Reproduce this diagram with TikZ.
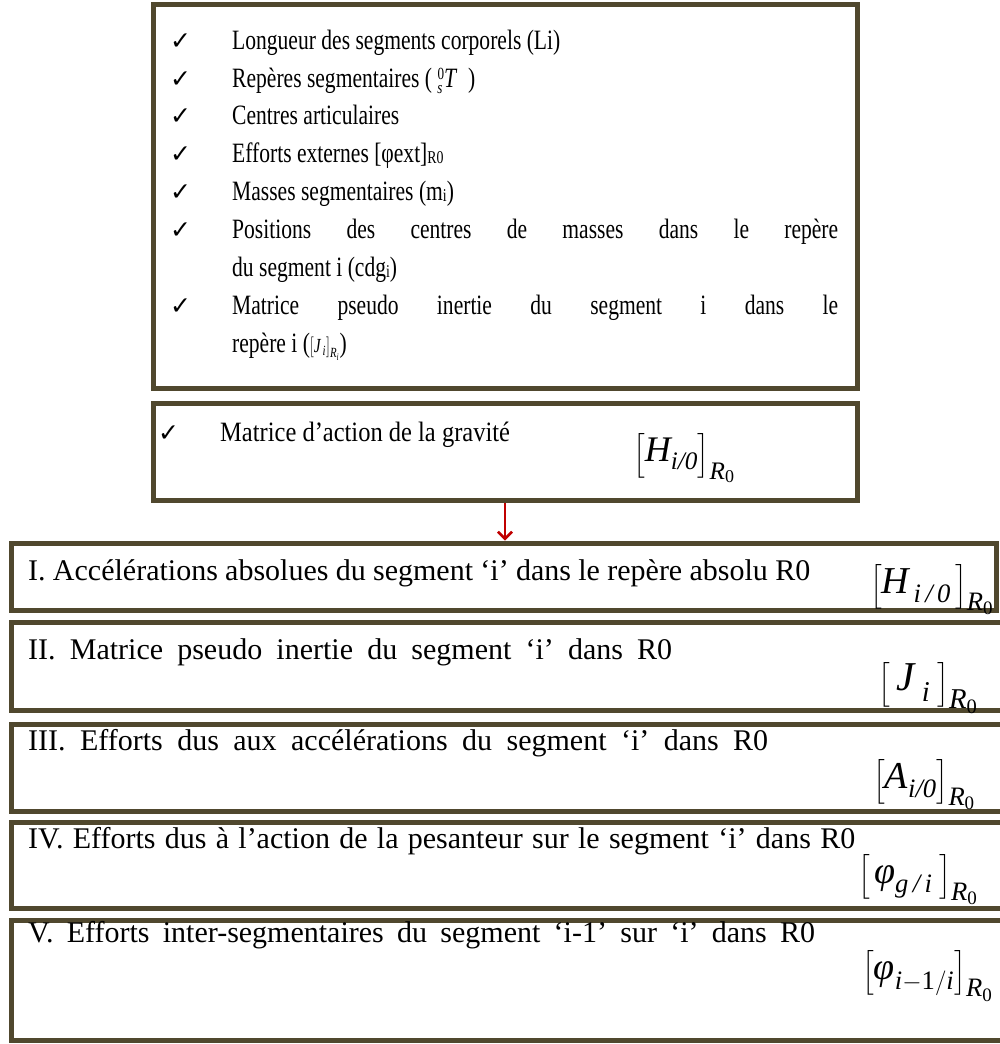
\documentclass[tikz,border=0pt]{standalone}
\usepackage{fontspec}
\usepackage{amsmath}
\usepackage{graphicx}
\usetikzlibrary{arrows.meta}
\setmainfont{Liberation Serif}
\newfontfamily\symfont{DejaVu Sans}
\definecolor{frameC}{RGB}{80,72,46}
\definecolor{arrC}{RGB}{192,0,0}
\newcommand{\tx}[1]{\text{\normalfont\itshape #1}}
\newcommand{\tn}[1]{\text{\normalfont #1}}
\newcommand{\ck}{{\symfont\fontsize{25}{25}\selectfont ✓}}
\newcommand{\smi}[1]{\raisebox{-1.5pt}{\fontsize{18}{18}\selectfont #1}}
\newcommand{\sqa}[1]{\scalebox{0.77}[1]{#1}}
\newcommand{\sqb}[1]{\scalebox{0.875}[1]{#1}}
\newcommand{\wl}[2]{\makebox[#1][s]{#2}}
\newcommand{\prescr}{\raisebox{8pt}{\fontsize{17}{17}\selectfont 0}\llap{\raisebox{-6pt}{\fontsize{17}{17}\selectfont\itshape s\hspace{2pt}}}}
\tikzset{
  frame/.style={draw=frameC, line width=5pt, inner sep=0pt},
  toptxt/.style={font=\fontsize{28}{32}\selectfont, anchor=base west, inner sep=0pt},
  txt/.style={font=\fontsize{30}{34}\selectfont, anchor=base west, inner sep=0pt},
  tick/.style={anchor=base west, inner sep=0pt},
  fm/.style={font=\fontsize{38}{42}\selectfont, inner sep=0pt, anchor=west},
  arr/.style={draw=arrC, line width=2.5pt, -{Straight Barb[length=7pt,width=14pt]}},
}
\begin{document}
\begin{tikzpicture}[x=1pt,y=-1pt]
\useasboundingbox (0,0) rectangle (999,1044);
% top boxes
\node[frame, minimum width=704, minimum height=384] (b0) at (505,196) {};
\node[frame, minimum width=704, minimum height=97] (b1) at (505,451.5) {};
% bottom boxes
\node[frame, minimum width=985, minimum height=67] (bI) at (503.5,576.5) {};
\node[frame, minimum width=1004, minimum height=88] (bII) at (513,666) {};
\node[frame, minimum width=1004, minimum height=87] (bIII) at (513,767.5) {};
\node[frame, minimum width=1004, minimum height=86] (bIV) at (513,865) {};
\node[frame, minimum width=1004, minimum height=120] (bV) at (513,980) {};
% arrow
\draw[arr] (b1.south) -- (b1.south |- bI.north);
% top box content
\node[tick] (c1) at (170,49) {\ck};
\node[toptxt] (l1) at (232,49) {\sqa{Longueur des segments corporels (Li)}};
\node[tick] (c2) at (170,87) {\ck};
\node[toptxt] (l2) at (232,87) {\sqa{Repères segmentaires (\hspace{7pt}\prescr\textit{T}\ \ )}};
\node[tick] (c3) at (170,124) {\ck};
\node[toptxt] (l3) at (232,124) {\sqa{Centres articulaires}};
\node[tick] (c4) at (170,162) {\ck};
\node[toptxt] (l4) at (232,162) {\sqa{Efforts externes [φext]\smi{R0}}};
\node[tick] (c5) at (170,200) {\ck};
\node[toptxt] (l5) at (232,200) {\sqa{Masses segmentaires (m\smi{i})}};
\node[tick] (c6) at (170,238) {\ck};
\node[toptxt] (l6) at (232,238) {\sqa{\wl{787pt}{Positions des centres de masses dans le repère}}};
\node[toptxt] (l7) at (232,276) {\sqa{du segment i (cdg\smi{i})}};
\node[tick] (c8) at (170,314) {\ck};
\node[toptxt] (l8) at (232,314) {\sqa{\wl{787pt}{Matrice pseudo inertie du segment i dans le}}};
\node[toptxt] (l9) at (232,352) {\sqa{repère i ({\fontsize{20}{20}\selectfont$\left[\tx{J}_{\,\tx{i}}\right]_{\tx{R}_{\tx{i}}}$})}};
% second box
\node[tick] (c10) at (158,441) {\ck};
\node[toptxt] (l10) at (220,441) {\sqb{Matrice d’action de la gravité}};
\node[font=\fontsize{36}{40}\selectfont, inner sep=0pt] (f0) at (684,458) {$\left[\tx{H}_{\tx{i/0}}\right]_{\tx{R}_{\tn{0}}}$};
% bottom box content
\node[txt] (tI) at (28,580) {\wl{782pt}{I. Accélérations absolues du segment ‘i’ dans le repère absolu R0}};
\node[fm] (fI) at (870,590) {$\left[\tx{H}_{\,\tx{i\,/\,0}}\,\right]_{\tx{R}_{\tn{0}}}$};
\node[txt] (tII) at (28,659) {\wl{644pt}{II. Matrice pseudo inertie du segment ‘i’ dans R0}};
\node[fm, font=\fontsize{41}{45}\selectfont] (fII) at (878,688) {$\left[\;\tx{J}_{\;\tx{i}}\;\right]_{\tx{R}_{\tn{0}}}$};
\node[txt] (tIII) at (28,750) {\wl{740pt}{III. Efforts dus aux accélérations du segment ‘i’ dans R0}};
\node[fm] (fIII) at (873,785) {$\left[\tx{A}_{\tx{i/0}}\right]_{\tx{R}_{\tn{0}}}$};
\node[txt] (tIV) at (28,848) {\wl{827pt}{IV. Efforts dus à l’action de la pesanteur sur le segment ‘i’ dans R0}};
\node[fm] (fIV) at (858,880) {$\left[\,\tx{φ}_{\tx{g\,/\,i}}\;\right]_{\tx{R}_{\tn{0}}}$};
\node[txt] (tV) at (28,942) {\wl{787pt}{V. Efforts inter-segmentaires du segment ‘i-1’ sur ‘i’ dans R0}};
\node[fm] (fV) at (862,976) {$\left[\tx{φ}_{\tx{i}-\tn{1}/\tx{i}}\right]_{\tx{R}_{\tn{0}}}$};
\end{tikzpicture}
\end{document}
